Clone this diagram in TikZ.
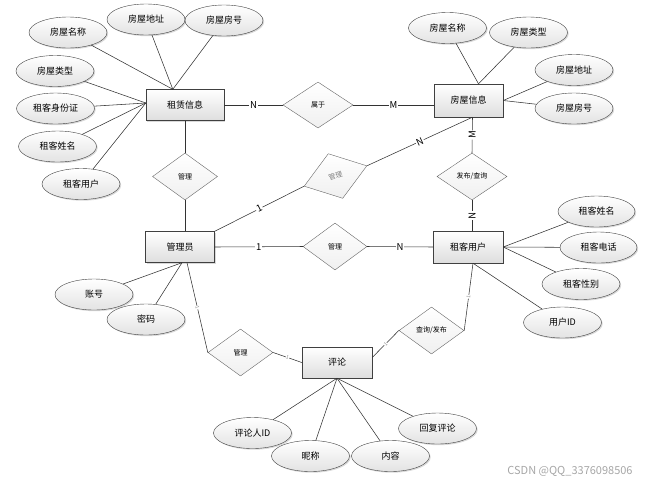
\documentclass[tikz,border=0pt]{standalone}
\usepackage{fontspec}
\setmainfont{Noto Sans CJK SC}
\usetikzlibrary{shapes.geometric,shadows}
\begin{document}
\begin{tikzpicture}[
		x=1pt, y=-1pt,
		shade/.style = {drop shadow={opacity=.3, shadow xshift=1.2pt, shadow yshift=-1.2pt}},
		entity/.style = {draw=black!75, top color=white, bottom color=black!13, shade,
				minimum width=70pt, minimum height=32pt, inner sep=0pt, font=\fontsize{9}{10}\selectfont},
		attr/.style = {ellipse, draw=black!75, top color=white, bottom color=black!11, shade,
				minimum width=78pt, minimum height=31pt, inner sep=0pt, font=\fontsize{9}{10}\selectfont},
		rel/.style = {diamond, draw=black!60, top color=white, bottom color=black!6,
				minimum width=65pt, minimum height=47pt, inner sep=0pt, font=\fontsize{7}{8}\selectfont},
		link/.style = {draw=black!80, line width=.55pt},
		card/.style = {fill=white, inner sep=.8pt, font=\fontsize{9.5}{10}\selectfont},
		tinycard/.style = {fill=white, inner sep=.3pt, text=black!45, font=\fontsize{5}{5}\selectfont},
	]
	\path[use as bounding box] (0,0) rectangle (647,483);
	\node[entity, minimum width=78pt, minimum height=31pt] (zl) at (185,105) {租赁信息};
	\node[entity, minimum width=69pt, minimum height=33pt] (fw) at (468.5,100.5) {房屋信息};
	\node[entity, minimum width=69pt, minimum height=31pt] (gl) at (180,247) {管理员};
	\node[entity] (zk) at (468,247) {租客用户};
	\node[entity, minimum height=31pt] (pl) at (337,362.5) {评论};
	\node[rel, minimum width=70pt, minimum height=46pt] (sh) at (318,105) {属于};
	\node[rel] (gt) at (185,176.5) {管理};
	\node[rel, minimum width=66pt, rotate=18, text=black!50] (rot) at (335.5,176) {管理};
	\node[rel, minimum width=70pt] (fb) at (472,176.5) {发布/查询};
	\node[rel, minimum width=64pt] (gm) at (335,246.5) {管理};
	\node[rel] (cx) at (431.5,330.5) {查询/发布};
	\node[rel] (gb) at (240.5,352.5) {管理};
	\node[attr] (a1) at (68,32.5) {房屋名称};
	\node[attr] (a2) at (146,19.5) {房屋地址};
	\node[attr] (a3) at (224,20.5) {房屋房号};
	\node[attr] (a4) at (55,71) {房屋类型};
	\node[attr] (a5) at (55.5,108.5) {租客身份证};
	\node[attr] (a6) at (57.5,146.5) {租客姓名};
	\node[attr] (a7) at (81,184) {租客用户};
	\node[attr] (b1) at (447.5,28) {房屋名称};
	\node[attr] (b2) at (528.5,32.5) {房屋类型};
	\node[attr] (b3) at (574,70) {房屋地址};
	\node[attr] (b4) at (574,108.5) {房屋房号};
	\node[attr, minimum width=77pt] (c1) at (596.5,211.5) {租客姓名};
	\node[attr, minimum width=77pt] (c2) at (598.5,247.5) {租客电话};
	\node[attr] (c3) at (581,284) {租客性别};
	\node[attr] (c4) at (562.5,322.5) {用户ID};
	\node[attr] (d1) at (94,294.5) {账号};
	\node[attr] (d2) at (146,319.5) {密码};
	\node[attr] (e1) at (252.5,433) {评论人ID};
	\node[attr] (e2) at (310.5,456) {昵称};
	\node[attr] (e3) at (390.5,456) {内容};
	\node[attr] (e4) at (437.5,428.5) {回复评论};
	\foreach \a in {a1,a2,a3}
		\draw[link] (\a) -- ([xshift=27pt]zl.north west);
	\foreach \a in {a4,a5,a6,a7}
		\draw[link] (\a) -- ([yshift=2pt]zl.west);
	\foreach \b in {b1,b2}
		\draw[link] (\b) -- ([xshift=10pt]fw.north);
	\foreach \b in {b3,b4}
		\draw[link] (\b) -- (fw.east);
	\foreach \c in {c1,c2,c3}
		\draw[link] (\c) -- (zk.east);
	\draw[link] (c4) -- ([xshift=5pt]zk.south);
	\foreach \d in {d1,d2}
		\draw[link] (\d) -- ([xshift=2pt]gl.south);
	\foreach \e in {e1,e2,e3,e4}
		\draw[link] (\e) -- (pl.south);
	\draw[link] (zl.east) -- (sh.west) node[card, midway] {N};
	\draw[link] (sh.east) -- (sh.east -| fw.west) node[card, midway] {M};
	\draw[link] (zl) -- (gt);
	\draw[link] (gt.south) -- (gt.south |- gl.north);
	\draw[link] (gl.north east) -- (rot.west) node[card, midway, sloped] {1};
	\draw[link] (rot.east) -- ([xshift=4pt]fw.south) node[card, midway, sloped] {N};
	\draw[link] ([xshift=4pt]fw.south) -- (fb.north) node[card, midway, sloped] {M};
	\draw[link] (fb.south) -- (fb.south |- zk.north) node[card, midway, sloped] {N};
	\draw[link] (gl.east) -- (gm.west) node[card, midway] {1};
	\draw[link] (gm.east) -- (zk.west) node[card, midway] {N};
	\draw[link] ([xshift=5pt]zk.south) -- (cx.east) node[tinycard, midway, sloped] {1};
	\draw[link] (cx.west) -- ([yshift=5pt]pl.east) node[tinycard, midway, sloped] {1};
	\draw[link] ([xshift=7pt]gl.south) -- (gb.west) node[tinycard, midway, sloped] {1};
	\draw[link] (gb.east) -- (pl.west) node[tinycard, midway, sloped] {1};
	\node[text=black!35, font=\fontsize{11}{12}\selectfont] (wm) at (570,471) {CSDN @QQ\_3376098506};
\end{tikzpicture}
\end{document}
